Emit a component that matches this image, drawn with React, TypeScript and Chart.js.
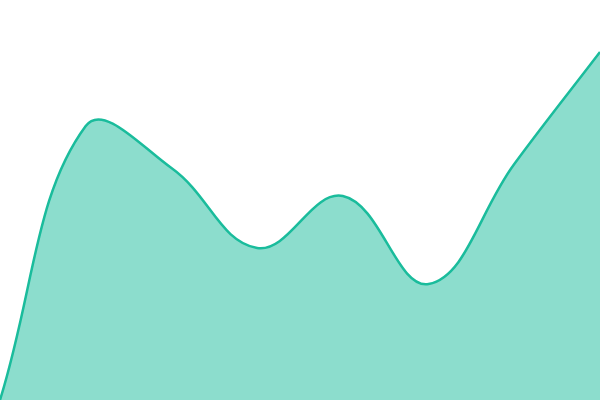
import { useEffect, useRef } from "react";
import Chart from "chart.js/auto";

const labels = ["1", "2", "3", "4", "5", "6", "7", "8"];
const values = [0, 68.5, 58, 38, 51, 29, 59, 87];

export default function App() {
  const ref = useRef<HTMLCanvasElement>(null);
  useEffect(() => {
    const ctx = ref.current!.getContext("2d")!;
    const chart = new Chart(ctx, {
      type: "line",
      data: {
        labels: labels,
        datasets: [
          {
            data: values,
            borderColor: "#1abc9c",
            backgroundColor: "rgba(26, 188, 156, 0.5)",
            borderWidth: 2.5,
            fill: true,
            tension: 0.4,
            pointRadius: 0,
          },
        ],
      },
      options: {
        animation: false,
        responsive: true,
        maintainAspectRatio: false,
        layout: { padding: 0 },
        plugins: { legend: { display: false }, tooltip: { enabled: false } },
        scales: {
          x: { display: false },
          y: { display: false, min: 0, max: 100 },
        },
      },
    });
    return () => {
      chart.destroy();
    };
  }, []);
  return (
    <div style={{ position: "fixed", left: 0, top: 0, width: 600, height: 400 }}>
      <canvas ref={ref}></canvas>
    </div>
  );
}
